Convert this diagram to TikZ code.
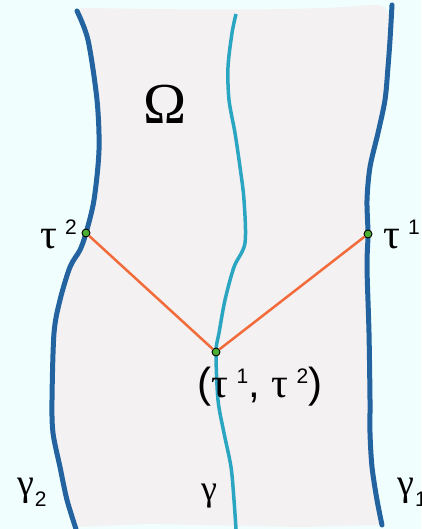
\documentclass[tikz,border=0pt]{standalone}
\usepackage{fontspec}
\setmainfont{Liberation Sans}
\newfontfamily\grk{Liberation Serif}
\usepackage{tikz}

\definecolor{skycol}{HTML}{F0FFFE}
\definecolor{regcol}{HTML}{F3F1F2}
\definecolor{wallcol}{HTML}{2363A0}
\definecolor{midcol}{HTML}{2BA6C2}
\definecolor{segcol}{HTML}{F26B3A}
\definecolor{ptcol}{HTML}{4CAF32}

\newcommand{\tauup}[1]{{\grk τ}\hspace{8pt}\raisebox{14pt}{\fontsize{21}{21}\selectfont #1}}
\newcommand{\gamsub}[1]{{\grk γ}\hspace{1pt}\raisebox{-11pt}{\fontsize{21}{21}\selectfont #1}}

\tikzset{
  wall/.style={draw=wallcol, line width=5pt, line cap=round},
  mid/.style={draw=midcol, line width=3.5pt},
  seg/.style={draw=segcol, line width=2.5pt},
  pt/.style={circle, fill=ptcol, draw=black, line width=0.9pt, inner sep=0pt, minimum size=8pt},
  lab/.style={inner sep=0pt, font=\fontsize{42}{42}\selectfont}
}

\begin{document}
\begin{tikzpicture}[x=1pt, y=-1pt]
            \useasboundingbox (0,0) rectangle (421,529);
            \clip (0,0) rectangle (421,529);
            \fill[skycol] (0,0) rectangle (421,529);

            % the region Omega
            \fill[regcol] plot[smooth] coordinates {(79,9) (88,40) (97,100) (99,150) (94,200) (86,233) (80,250) (70,267) (60,300) (54,333) (52,400) (53,433) (60,467) (67,500) (76,527)}
                -- (150,524) -- (300,527) -- (382,525)
                -- plot[smooth] coordinates {(382,525) (377,500) (372,467) (370,433) (370,400) (369,333) (367,267) (368,234) (367,200) (370,167) (378,133) (385,100) (388,67) (390,30)}
                .. controls (391,8) and (385,4) .. (370,5) .. controls (300,12) and (150,9) .. (84,8) -- cycle;

            % boundaries
            \draw[wall] plot[smooth] coordinates {(77,11) (88,40) (97,100) (99,150) (94,200) (86,233) (80,250) (70,267) (60,300) (54,333) (52,400) (53,433) (60,467) (67,500) (76,529)};
            \draw[wall] plot[smooth] coordinates {(392,5) (390,40) (388,67) (385,100) (378,133) (370,167) (367,200) (368,234) (367,267) (369,333) (370,400) (370,433) (372,467) (377,500) (382,525)};
            \draw[mid] plot[smooth] coordinates {(236,14) (232,33) (228,67) (229,100) (235,133) (240,167) (244,200) (245,243) (234,267) (225,300) (219,333) (216,352) (218,400) (224,433) (231,467) (234,500) (236,529)};

            % points and segments
            \node[pt] (t2) at (86,233) {};
            \node[pt] (t1) at (368,234) {};
            \node[pt] (tt) at (216,352) {};
            \draw[seg] (t2) -- (tt);
            \draw[seg] (tt) -- (t1);

            % labels
            \node[inner sep=0pt, font=\fontsize{58}{58}\selectfont\grk] (om) at (165,104) {Ω};
            \node[lab, anchor=base east] (l2) at (77,248) {\tauup{2}};
            \node[lab, anchor=base west] (l1) at (383,248) {\tauup{1}};
            \node[lab, anchor=base] (lt) at (260,397) {(\tauup{1}, \tauup{2})};
            \node[inner sep=0pt, anchor=base west, font=\fontsize{38}{38}\selectfont] (g2) at (17,495) {\gamsub{2}};
            \node[inner sep=0pt, anchor=base west, font=\fontsize{38}{38}\selectfont] (g1) at (397,495) {\gamsub{1}};
            \node[inner sep=0pt, anchor=base west, font=\fontsize{36}{36}\selectfont\grk] (g) at (201,500) {γ};
        \end{tikzpicture}
\end{document}
